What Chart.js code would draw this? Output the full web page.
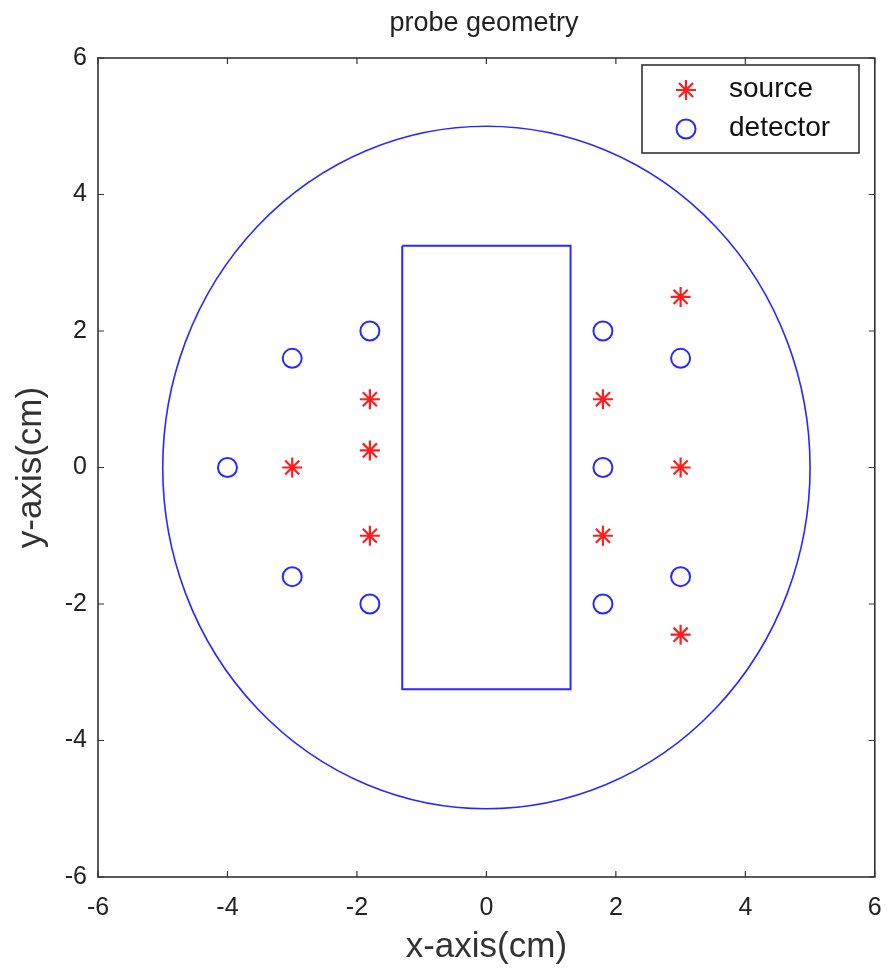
<!DOCTYPE html>
<html>
<head>
<meta charset="utf-8">
<title>probe geometry</title>
<script src="https://cdn.jsdelivr.net/npm/chart.js@4.4.1/dist/chart.umd.min.js"></script>
<style>
  body { margin: 0; background: #fff; }
  #wrap { width: 887px; height: 977px; position: relative; }
</style>
</head>
<body>
<div id="wrap"><canvas id="probeChart"></canvas></div>
<script>
const FONT = "'Liberation Sans', Arial, sans-serif";
const RED = 'rgb(255, 30, 30)';
const BLUE = 'rgb(40, 40, 255)';

// Data (cm)
const sourceX = [-3, -1.8, -1.8, -1.8, 1.8, 1.8, 3, 3, 3];
const sourceY = [0, 1, 0.25, -1, 1, -1, 2.5, 0, -2.45];
const detectorX = [-4, -3, -3, -1.8, -1.8, 1.8, 1.8, 1.8, 3, 3];
const detectorY = [0, 1.6, -1.6, 2, -2, 2, 0, -2, 1.6, -1.6];
const probeX = [-1.3, 1.3, 1.3, -1.3, -1.3];
const probeY = [3.25, 3.25, -3.25, -3.25, 3.25];
const tissueRadius = 5;
const tickValues = [-6, -4, -2, 0, 2, 4, 6];
const legendLabels = ['source', 'detector'];

function toPoints(xs, ys) {
  return xs.map((x, i) => ({ x: x, y: ys[i] }));
}

// Tissue outline: circle drawn through the scales
const tissueOutline = {
  id: 'tissueOutline',
  beforeDatasetsDraw(chart) {
    const { ctx, scales: { x, y } } = chart;
    const cx = x.getPixelForValue(0);
    const cy = y.getPixelForValue(0);
    const rx = x.getPixelForValue(tissueRadius) - cx;
    const ry = cy - y.getPixelForValue(tissueRadius);
    ctx.save();
    ctx.strokeStyle = BLUE;
    ctx.lineWidth = 1.6;
    ctx.beginPath();
    ctx.ellipse(cx, cy, rx, ry, 0, 0, Math.PI * 2);
    ctx.stroke();
    ctx.restore();
  }
};

// Box frame with inward ticks on all four sides, plus the title
const frameTicks = {
  id: 'frameTicks',
  afterDraw(chart) {
    const { ctx, chartArea: a, scales: { x, y } } = chart;
    ctx.save();
    ctx.strokeStyle = '#333';
    ctx.lineWidth = 1.6;
    ctx.strokeRect(a.left, a.top, a.right - a.left, a.bottom - a.top);
    ctx.lineWidth = 1.2;
    ctx.beginPath();
    tickValues.forEach(v => {
      const px = x.getPixelForValue(v);
      ctx.moveTo(px, a.bottom); ctx.lineTo(px, a.bottom - 6);
      ctx.moveTo(px, a.top); ctx.lineTo(px, a.top + 6);
      const py = y.getPixelForValue(v);
      ctx.moveTo(a.left, py); ctx.lineTo(a.left + 6, py);
      ctx.moveTo(a.right, py); ctx.lineTo(a.right - 6, py);
    });
    ctx.stroke();

    ctx.fillStyle = '#222';
    ctx.font = '27px ' + FONT;
    ctx.textAlign = 'center';
    ctx.textBaseline = 'middle';
    ctx.fillText('probe geometry', 484, 24);
    ctx.restore();
  }
};

// Boxed legend in the upper right corner
const boxLegend = {
  id: 'boxLegend',
  afterDraw(chart) {
    const { ctx } = chart;
    const left = 642, top = 65, w = 217, h = 88;
    ctx.save();
    ctx.fillStyle = '#fff';
    ctx.fillRect(left, top, w, h);
    ctx.strokeStyle = '#333';
    ctx.lineWidth = 1.6;
    ctx.strokeRect(left, top, w, h);

    const rows = [
      { y: 90, ds: chart.data.datasets[1] },
      { y: 129, ds: chart.data.datasets[2] }
    ];
    rows.forEach((row, i) => {
      ctx.strokeStyle = row.ds.borderColor;
      ctx.fillStyle = row.ds.backgroundColor;
      ctx.lineWidth = row.ds.borderWidth;
      Chart.helpers.drawPoint(ctx, {
        pointStyle: row.ds.pointStyle,
        radius: row.ds.pointRadius,
        rotation: 0,
        borderWidth: row.ds.borderWidth
      }, 686, row.y);
      ctx.fillStyle = '#111';
      ctx.font = '28px ' + FONT;
      ctx.textAlign = 'left';
      ctx.textBaseline = 'middle';
      ctx.fillText(legendLabels[i], 729, row.y - 1);
    });
    ctx.restore();
  }
};

const ctx = document.getElementById('probeChart').getContext('2d');

new Chart(ctx, {
  type: 'scatter',
  data: {
    datasets: [
      {
        label: 'probe',
        data: toPoints(probeX, probeY),
        showLine: true,
        borderColor: BLUE,
        borderWidth: 2,
        pointRadius: 0,
        fill: false,
        tension: 0
      },
      {
        label: legendLabels[0],
        data: toPoints(sourceX, sourceY),
        pointStyle: 'star',
        pointRadius: 10,
        borderColor: RED,
        backgroundColor: RED,
        borderWidth: 2.2
      },
      {
        label: legendLabels[1],
        data: toPoints(detectorX, detectorY),
        pointStyle: 'circle',
        pointRadius: 9.5,
        borderColor: BLUE,
        backgroundColor: 'rgba(0,0,0,0)',
        borderWidth: 2
      }
    ]
  },
  options: {
    responsive: true,
    maintainAspectRatio: false,
    animation: false,
    layout: {
      padding: { top: 58, right: 11, left: 0, bottom: 0 }
    },
    plugins: {
      legend: { display: false },
      tooltip: { enabled: false },
      title: { display: false }
    },
    scales: {
      x: {
        type: 'linear',
        min: -6,
        max: 6,
        ticks: {
          stepSize: 2,
          padding: 16,
          color: '#222',
          font: { family: FONT, size: 25 }
        },
        grid: { display: false, drawTicks: false },
        border: { display: false },
        title: {
          display: true,
          text: 'x-axis(cm)',
          color: '#333',
          font: { family: FONT, size: 35 },
          padding: { top: 0, bottom: 9 }
        },
        afterFit(scale) {
          scale.height = 100;
          scale.paddingLeft = 0;
          scale.paddingRight = 0;
        }
      },
      y: {
        type: 'linear',
        min: -6,
        max: 6,
        ticks: {
          stepSize: 2,
          padding: 11,
          color: '#222',
          font: { family: FONT, size: 25 }
        },
        grid: { display: false, drawTicks: false },
        border: { display: false },
        title: {
          display: true,
          text: 'y-axis(cm)',
          color: '#333',
          font: { family: FONT, size: 35 },
          padding: { top: 10, bottom: 0 }
        },
        afterFit(scale) {
          scale.width = 98;
          scale.paddingTop = 0;
          scale.paddingBottom = 0;
        }
      }
    }
  },
  plugins: [tissueOutline, frameTicks, boxLegend]
});
</script>
</body>
</html>
